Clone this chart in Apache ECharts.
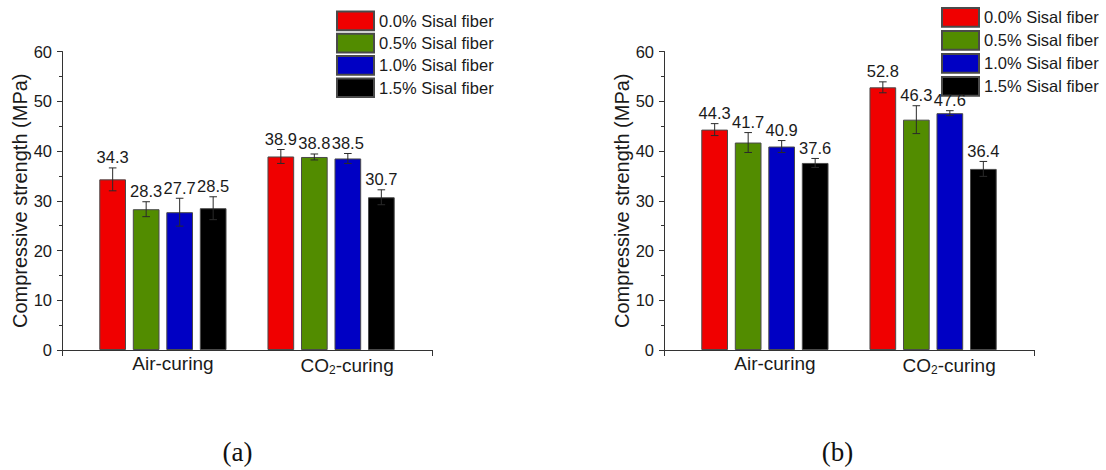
<!DOCTYPE html>
<html>
<head>
<meta charset="utf-8">
<script src="https://cdn.jsdelivr.net/npm/echarts@6/dist/echarts.min.js"></script>
<style>
  html, body { margin: 0; padding: 0; background: #fff; }
  #chart { width: 1106px; height: 470px; }
</style>
</head>
<body>
<div id="chart"></div>
<script>
// ---- data ----
const categories = ['Air-curing', 'CO2-curing'];
const categoryPos = [1, 2];
const seriesNames = ['0.0% Sisal fiber', '0.5% Sisal fiber', '1.0% Sisal fiber', '1.5% Sisal fiber'];

// panel (a)
const a_fiber00 = [34.3, 38.9];
const a_fiber05 = [28.3, 38.8];
const a_fiber10 = [27.7, 38.5];
const a_fiber15 = [28.5, 30.7];
const a_err00 = [2.3, 1.4];
const a_err05 = [1.5, 0.6];
const a_err10 = [2.8, 1.0];
const a_err15 = [2.3, 1.5];

// panel (b)
const b_fiber00 = [44.3, 52.8];
const b_fiber05 = [41.7, 46.3];
const b_fiber10 = [40.9, 47.6];
const b_fiber15 = [37.6, 36.4];
const b_err00 = [1.2, 1.1];
const b_err05 = [2.0, 2.8];
const b_err10 = [1.2, 0.5];
const b_err15 = [0.9, 1.5];

const yMin = 0, yMax = 60, yStep = 10;
const xMin = 0.4, xMax = 2.6;
const panelLabels = ['(a)', '(b)'];
const yAxisTitle = 'Compressive strength (MPa)';

// ---- styling ----
const COLORS = ['#F00000', '#528C00', '#0000C4', '#000000'];
const BAR_W = 26.7;
const BAR_GAP = 6.8;
const FONT = '"Liberation Sans", Arial, sans-serif';
const AXIS_COLOR = '#333';
const TEXT_COLOR = '#1a1a1a';

const panels = [
  { vals: [a_fiber00, a_fiber05, a_fiber10, a_fiber15], errs: [a_err00, a_err05, a_err10, a_err15],
    gridLeft: 62, legendLeft: 336, legendTop: 10.5, itemGap: 1.6 },
  { vals: [b_fiber00, b_fiber05, b_fiber10, b_fiber15], errs: [b_err00, b_err05, b_err10, b_err15],
    gridLeft: 664, legendLeft: 941, legendTop: 7, itemGap: 2.3 }
];

const grids = [], xAxes = [], yAxes = [], series = [], legends = [];

panels.forEach((p, gi) => {
  grids.push({ left: p.gridLeft, top: 51.5, width: 370, height: 298.5 });
  xAxes.push({
    type: 'value', gridIndex: gi, min: xMin, max: xMax,
    splitLine: { show: false },
    axisLine: { show: true, onZero: false, lineStyle: { color: AXIS_COLOR, width: 1 } },
    axisTick: { show: true, customValues: [xMin, xMax], length: 6, inside: false, lineStyle: { color: AXIS_COLOR } },
    axisLabel: {
      show: true, customValues: categoryPos, margin: 4,
      formatter: function (v) {
        const i = categoryPos.indexOf(v);
        const name = categories[i];
        if (name === 'CO2-curing') return '{p|CO}{s|2}{c|-curing}';
        return '{a|' + name + '}';
      },
      rich: {
        a: { fontSize: 19, fontFamily: FONT, color: TEXT_COLOR, padding: [0, 0, 0, 20] },
        p: { fontSize: 19, fontFamily: FONT, color: TEXT_COLOR, padding: [0, 0, 0, 32] },
        s: { fontSize: 12, fontFamily: FONT, color: TEXT_COLOR, padding: [10, 0, 0, 0] },
        c: { fontSize: 19, fontFamily: FONT, color: TEXT_COLOR }
      }
    }
  });
  yAxes.push({
    type: 'value', gridIndex: gi, min: yMin, max: yMax, interval: yStep,
    name: yAxisTitle, nameLocation: 'middle', nameGap: 32,
    nameTextStyle: { fontSize: 20, fontFamily: FONT, color: TEXT_COLOR },
    splitLine: { show: false },
    axisLine: { show: true, onZero: false, lineStyle: { color: AXIS_COLOR, width: 1 } },
    axisTick: { show: true, length: 5, inside: false, lineStyle: { color: AXIS_COLOR } },
    minorTick: { show: true, splitNumber: 2, length: 3, lineStyle: { color: AXIS_COLOR } },
    axisLabel: { fontSize: 16.5, fontFamily: FONT, color: TEXT_COLOR, margin: 10 }
  });
  seriesNames.forEach((nm, k) => {
    series.push({
      type: 'bar', name: nm, xAxisIndex: gi, yAxisIndex: gi,
      barWidth: BAR_W, barGap: (BAR_GAP / BAR_W * 100).toFixed(1) + '%',
      itemStyle: { color: COLORS[k], borderColor: '#4a4a4a', borderWidth: 1 },
      data: categoryPos.map((x, i) => [x, p.vals[k][i]]),
      z: 2
    });
  });
  const errData = [];
  seriesNames.forEach((nm, k) => {
    categoryPos.forEach((x, i) => errData.push([x, p.vals[k][i], p.errs[k][i], k]));
  });
  series.push({
    type: 'custom', xAxisIndex: gi, yAxisIndex: gi, z: 5, silent: true,
    encode: { x: 0, y: 1 },
    data: errData,
    renderItem: function (params, api) {
      const x = api.value(0), y = api.value(1), e = api.value(2), k = api.value(3);
      const c = api.coord([x, y]);
      const hi = api.coord([x, y + e]);
      const lo = api.coord([x, y - e]);
      const cx = c[0] + (k - 1.5) * (BAR_W + BAR_GAP);
      const cap = 3.8;
      const ls = { stroke: '#2a2a2a', lineWidth: 1 };
      return {
        type: 'group',
        children: [
          { type: 'line', shape: { x1: cx, y1: hi[1], x2: cx, y2: lo[1] }, style: ls },
          { type: 'line', shape: { x1: cx - cap, y1: hi[1], x2: cx + cap, y2: hi[1] }, style: ls },
          { type: 'line', shape: { x1: cx - cap, y1: lo[1], x2: cx + cap, y2: lo[1] }, style: ls },
          { type: 'text', style: {
              text: String(y), x: cx, y: hi[1] - 2,
              align: 'center', verticalAlign: 'bottom',
              textAlign: 'center', textVerticalAlign: 'bottom',
              font: '16.5px ' + FONT, fill: TEXT_COLOR } }
        ]
      };
    }
  });
  legends.push({
    show: true, orient: 'vertical', left: p.legendLeft, top: p.legendTop,
    itemWidth: 37, itemHeight: 18.7, itemGap: p.itemGap,
    icon: 'rect', padding: 0,
    data: seriesNames,
    selectedMode: false,
    textStyle: { fontSize: 16.5, fontFamily: FONT, color: TEXT_COLOR, lineHeight: 18.7 }
  });
});

const chart = echarts.init(document.getElementById('chart'), null, { renderer: 'svg' });
chart.setOption({
  animation: false,
  backgroundColor: '#ffffff',
  grid: grids, xAxis: xAxes, yAxis: yAxes, series: series, legend: legends,
  graphic: [
    { type: 'text', x: 237.5, y: 452, style: { text: panelLabels[0], font: '27px "Liberation Serif", "Times New Roman", serif', fill: '#111', align: 'center', verticalAlign: 'middle' } },
    { type: 'text', x: 837.5, y: 452, style: { text: panelLabels[1], font: '27px "Liberation Serif", "Times New Roman", serif', fill: '#111', align: 'center', verticalAlign: 'middle' } }
  ]
});
</script>
</body>
</html>
